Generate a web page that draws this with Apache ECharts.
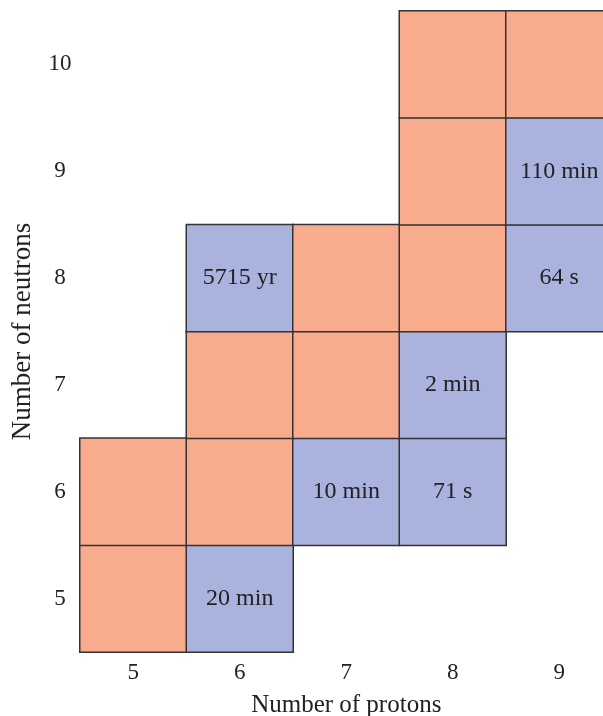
<!DOCTYPE html>
<html>
<head>
<meta charset="utf-8">
<script src="https://cdn.jsdelivr.net/npm/echarts@6/dist/echarts.min.js"></script>
<style>html,body{margin:0;padding:0;background:#fff;}#c{width:603px;height:716px;}</style>
</head>
<body>
<div id="c"></div>
<script>
const protons = ['5', '6', '7', '8', '9'];
const neutrons = ['5', '6', '7', '8', '9', '10'];
const cellProtons  = ['5', '6', '5', '6', '7', '8', '6', '7', '8', '6', '7', '8', '9', '8', '9', '8', '9'];
const cellNeutrons = ['5', '5', '6', '6', '6', '6', '7', '7', '7', '8', '8', '8', '8', '9', '9', '10', '10'];
const cellType     = [0, 1, 0, 0, 1, 1, 0, 0, 1, 1, 0, 0, 1, 0, 1, 0, 0];
const halfLives    = ['', '20 min', '', '', '10 min', '71 s', '', '', '2 min', '5715 yr', '', '', '64 s', '', '110 min', '', ''];

const FONT = '"Liberation Serif", "DejaVu Serif", serif';
const data = cellProtons.map((p, i) => [p, cellNeutrons[i], cellType[i]]);

const chart = echarts.init(document.getElementById('c'));
chart.setOption({
  animation: false,
  backgroundColor: '#fff',
  grid: { left: 80, top: 11, bottom: 64, right: -9.5, containLabel: false, outerBoundsMode: 'none' },
  xAxis: {
    type: 'category',
    data: protons,
    name: 'Number of protons',
    nameLocation: 'middle',
    nameGap: 41,
    nameTextStyle: { fontFamily: FONT, fontSize: 25, color: '#222' },
    axisLine: { show: false }, axisTick: { show: false }, splitLine: { show: false },
    axisLabel: { fontFamily: FONT, fontSize: 23, color: '#222', margin: 9 }
  },
  yAxis: {
    type: 'category',
    data: neutrons,
    name: 'Number of neutrons',
    nameLocation: 'middle',
    nameGap: 44,
    nameTextStyle: { fontFamily: FONT, fontSize: 27, color: '#222' },
    axisLine: { show: false }, axisTick: { show: false }, splitLine: { show: false },
    axisLabel: { fontFamily: FONT, fontSize: 23, color: '#222', margin: 20, align: 'center' }
  },
  visualMap: {
    show: false,
    type: 'piecewise',
    dimension: 2,
    pieces: [
      { value: 0, color: '#F9AB8E' },
      { value: 1, color: '#AAB3DD' }
    ]
  },
  series: [{
    type: 'heatmap',
    data: data,
    itemStyle: { borderColor: '#333', borderWidth: 1.5 },
    label: {
      show: true,
      fontFamily: FONT,
      fontSize: 24,
      color: '#222',
      formatter: p => halfLives[p.dataIndex]
    },
    emphasis: { disabled: true }
  }]
});
</script>
</body>
</html>
